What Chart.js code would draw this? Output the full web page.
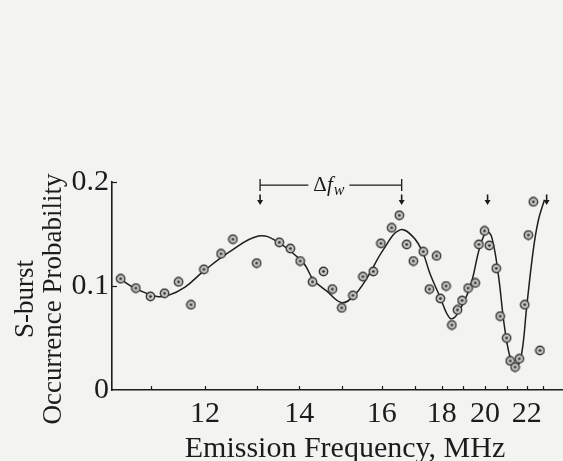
<!DOCTYPE html>
<html>
<head>
<meta charset="utf-8">
<script src="https://cdn.jsdelivr.net/npm/chart.js@4.4.1/dist/chart.umd.min.js"></script>
<style>
  html, body { margin: 0; padding: 0; background: #f3f3f1; }
  canvas { display: block; }
</style>
</head>
<body>
<canvas id="myChart" width="563" height="461"></canvas>
<script>
// measured S-burst occurrence (dots)
const freqs = [10.44, 10.72, 10.99, 11.25, 11.51, 11.74, 11.98, 12.31, 12.54, 13.0,
  13.53, 13.79, 14.02, 14.31, 14.57, 14.78, 15.0, 15.28, 15.53, 15.79,
  15.98, 16.3, 16.53, 16.75, 16.95, 17.31, 17.54, 17.81, 17.95, 18.2,
  18.47, 18.73, 18.94, 19.22, 19.55, 19.72, 19.98, 20.2, 20.52, 20.7,
  21.0, 21.18, 21.42, 21.63, 21.9, 22.1, 22.4, 22.8];
const probs = [0.107, 0.098, 0.090, 0.093, 0.104, 0.082, 0.116, 0.131, 0.145, 0.122,
  0.142, 0.136, 0.124, 0.104, 0.114, 0.097, 0.079, 0.091, 0.109, 0.114,
  0.141, 0.156, 0.168, 0.140, 0.124, 0.133, 0.097, 0.129, 0.088, 0.100,
  0.0625, 0.077, 0.086, 0.098, 0.103, 0.140, 0.153, 0.139, 0.117, 0.071,
  0.050, 0.028, 0.022, 0.030, 0.082, 0.149, 0.181, 0.038];

// smooth fitted curve
const fitFreqs = [10.37, 10.7, 11.11, 11.32, 11.63, 11.97, 12.48, 13.04, 13.47, 14.1,
  14.33, 14.65, 15.0, 15.29, 15.62, 16.05, 16.55, 16.95, 17.31, 17.56,
  17.93, 18.38, 18.69, 19.31, 19.77, 20.08, 20.31, 20.61, 20.92, 21.25,
  21.5, 21.75, 22.0, 22.4, 22.7, 23.06];
const fitProbs = [0.109, 0.098, 0.090, 0.091, 0.099, 0.114, 0.133, 0.148, 0.143, 0.122,
  0.106, 0.095, 0.084, 0.090, 0.107, 0.135, 0.154, 0.147, 0.131, 0.112,
  0.090, 0.069, 0.072, 0.099, 0.138, 0.152, 0.147, 0.112, 0.058, 0.026,
  0.022, 0.035, 0.080, 0.135, 0.163, 0.183];

const arrowFreqs = [13.08, 16.6, 20.12, 23.17];
const bracketFreqs = [13.08, 16.6];
const xTicks = [11, 12, 13, 14, 15, 16, 17, 18, 19, 20, 21, 22, 23];
const xLabels = [12, 14, 16, 18, 20, 22];
const yTicks = [0, 0.1, 0.2];

const serif = '"Liberation Serif", "DejaVu Serif", serif';
const ink = '#1c1c1c';

// the frequency axis of the figure is not linear: tick value -> fraction of axis width
const axisWarp = [
  [10.28, 0], [11, 0.0865], [12, 0.2062], [13, 0.3208], [14, 0.4153], [15, 0.5093],
  [16, 0.598], [17, 0.6718], [18, 0.731], [19, 0.779], [20, 0.827], [21, 0.875],
  [22, 0.9195], [23, 0.9563], [24, 1.0]
];

function interp(table, v, a, b) {
  if (v <= table[0][a]) {
    const p = table[0], q = table[1];
    return p[b] + (v - p[a]) * (q[b] - p[b]) / (q[a] - p[a]);
  }
  for (let i = 1; i < table.length; i++) {
    const p = table[i - 1], q = table[i];
    if (v <= q[a] || i === table.length - 1) {
      return p[b] + (v - p[a]) * (q[b] - p[b]) / (q[a] - p[a]);
    }
  }
}

class WarpScale extends Chart.LinearScale {
  getPixelForValue(value) {
    if (value === null || value === undefined) return NaN;
    return this.getPixelForDecimal(interp(axisWarp, value, 0, 1));
  }
  getValueForPixel(pixel) {
    return interp(axisWarp, this.getDecimalForPixel(pixel), 1, 0);
  }
}
WarpScale.id = 'warp';
WarpScale.defaults = Chart.LinearScale.defaults;
Chart.register(WarpScale);

// little circle with a dot, like the plotted symbols
function dotSymbol() {
  const c = document.createElement('canvas');
  c.width = 11; c.height = 11;
  const g = c.getContext('2d');
  g.beginPath(); g.arc(5.5, 5.5, 4.2, 0, Math.PI * 2);
  g.fillStyle = '#c4c4c2'; g.fill();
  g.lineWidth = 1.4; g.strokeStyle = '#3a3a3a'; g.stroke();
  g.beginPath(); g.arc(5.5, 5.5, 1.3, 0, Math.PI * 2);
  g.fillStyle = '#2a2a2a'; g.fill();
  return c;
}

const decorations = {
  id: 'decorations',
  afterDraw(chart) {
    const ctx = chart.ctx;
    const x = chart.scales.x, y = chart.scales.y;
    const area = chart.chartArea;
    ctx.save();
    ctx.strokeStyle = ink;
    ctx.fillStyle = ink;

    // inward tick marks
    ctx.lineWidth = 1.2;
    xTicks.forEach(v => {
      const px = Math.round(x.getPixelForValue(v)) + 0.5;
      ctx.beginPath(); ctx.moveTo(px, area.bottom); ctx.lineTo(px, area.bottom - 4); ctx.stroke();
    });
    yTicks.slice(1).forEach(v => {
      const py = Math.round(y.getPixelForValue(v)) + 0.5;
      ctx.beginPath(); ctx.moveTo(area.left, py); ctx.lineTo(area.left + 5, py); ctx.stroke();
    });

    // down arrows
    arrowFreqs.forEach(f => {
      const px = x.getPixelForValue(f);
      const top = y.getPixelForValue(0.188), tip = y.getPixelForValue(0.178);
      ctx.lineWidth = 1.6;
      ctx.beginPath(); ctx.moveTo(px, top); ctx.lineTo(px, tip - 4); ctx.stroke();
      ctx.beginPath();
      ctx.moveTo(px - 3, tip - 5); ctx.lineTo(px + 3, tip - 5); ctx.lineTo(px, tip);
      ctx.closePath(); ctx.fill();
    });

    // delta f_w bracket
    const bx0 = x.getPixelForValue(bracketFreqs[0]);
    const bx1 = x.getPixelForValue(bracketFreqs[1]);
    const by = y.getPixelForValue(0.197);
    ctx.lineWidth = 1.3;
    ctx.beginPath();
    ctx.moveTo(bx0, by - 6); ctx.lineTo(bx0, by + 6);
    ctx.moveTo(bx1, by - 6); ctx.lineTo(bx1, by + 6);
    ctx.moveTo(bx0, by); ctx.lineTo(bx1, by);
    ctx.stroke();
    const d = '\u0394', f = 'f', w = 'w';
    ctx.textBaseline = 'alphabetic';
    ctx.font = '21px ' + serif;
    const wd = ctx.measureText(d).width;
    ctx.font = 'italic 21px ' + serif;
    const wf = ctx.measureText(f).width;
    ctx.font = 'italic 16px ' + serif;
    const ww = ctx.measureText(w).width;
    const total = wd + wf + 1 + ww;
    const cx = (bx0 + bx1) / 2 - 2;
    let tx = cx - total / 2;
    ctx.fillStyle = '#f3f3f1';
    ctx.fillRect(tx - 5, by - 12, total + 10, 22);
    ctx.fillStyle = ink;
    ctx.font = '21px ' + serif;
    ctx.fillText(d, tx, by + 6); tx += wd;
    ctx.font = 'italic 21px ' + serif;
    ctx.fillText(f, tx, by + 6); tx += wf + 1;
    ctx.font = 'italic 16px ' + serif;
    ctx.fillText(w, tx, by + 10);

    // axis titles
    ctx.font = '30px ' + serif;
    ctx.textAlign = 'center';
    ctx.fillText('Emission Frequency, MHz', 345, 457);
    ctx.translate(0, 299);
    ctx.rotate(-Math.PI / 2);
    ctx.font = '27px ' + serif;
    ctx.fillText('S-burst', 0, 33);
    ctx.fillText('Occurrence Probability', 0, 61);
    ctx.restore();
  }
};

const myChartRef = document.getElementById('myChart').getContext('2d');
new Chart(myChartRef, {
  type: 'scatter',
  data: {
    datasets: [{
      label: 'S-burst occurrence',
      data: freqs.map((v, i) => ({x: v, y: probs[i]})),
      pointStyle: dotSymbol(),
      pointRadius: 5,
      showLine: false
    }, {
      label: 'fit',
      data: fitFreqs.map((v, i) => ({x: v, y: fitProbs[i]})),
      showLine: true,
      borderColor: '#1e1e1e',
      borderWidth: 1.5,
      pointRadius: 0,
      tension: 0.4,
      fill: false
    }]
  },
  options: {
    responsive: false,
    animation: false,
    devicePixelRatio: 1,
    layout: { autoPadding: false, padding: { top: 182, right: 0, bottom: 0, left: 0 } },
    plugins: { legend: { display: false }, tooltip: { enabled: false } },
    scales: {
      x: {
        type: 'warp',
        min: 10.28,
        max: 24,
        afterBuildTicks: s => { s.ticks = xTicks.map(v => ({value: v})); },
        afterFit: s => { s.height = 71; s.paddingLeft = 0; s.paddingRight = 0; },
        grid: { display: false, drawTicks: false },
        border: { display: true, color: ink, width: 1.6 },
        ticks: {
          autoSkip: false, maxRotation: 0, padding: 6, color: ink,
          font: { family: serif, size: 30 },
          callback: v => xLabels.includes(v) ? String(v) : ''
        }
      },
      y: {
        min: 0,
        max: 0.2,
        afterBuildTicks: s => { s.ticks = yTicks.map(v => ({value: v})); },
        afterFit: s => { s.width = 112; s.paddingTop = 0; s.paddingBottom = 0; },
        grid: { display: false, drawTicks: false },
        border: { display: true, color: ink, width: 1.6 },
        ticks: {
          padding: 3, color: ink,
          font: { family: serif, size: 30 },
          callback: v => v === 0 ? '0' : v.toFixed(1)
        }
      }
    }
  },
  plugins: [decorations]
});
</script>
</body>
</html>
